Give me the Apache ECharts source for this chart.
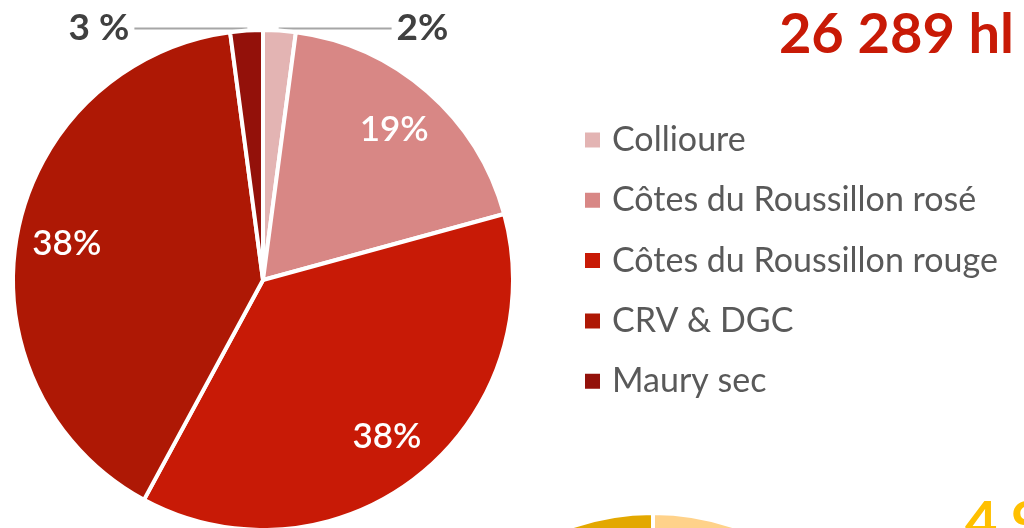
<!DOCTYPE html>
<html>
<head>
<meta charset="utf-8">
<script src="https://cdn.jsdelivr.net/npm/echarts@6/dist/echarts.min.js"></script>
<style>
  html, body { margin: 0; padding: 0; background: #fff; }
  #chart { width: 1024px; height: 528px; }
</style>
</head>
<body>
<div id="chart"></div>
<script>
// appellations, share of volume (%)
const categories = ['Collioure', 'Côtes du Roussillon rosé', 'Côtes du Roussillon rouge', 'CRV & DGC', 'Maury sec'];
const shares = [2.1, 18.65, 37.15, 40, 2.1];
const shareLabels = ['2%', '19%', '38%', '38%', '3 %'];
const colors = ['#e3b4b3', '#d88785', '#c81a06', '#ae1805', '#93110a'];
const totalLabel = '26 289 hl';

// next chart (only its top edge shows)
const nextShares = [25, 50, 25];
const nextColors = ['#ffd28a', '#f5c040', '#e3a800'];
const nextLabel = '4 912 hl';

const FONT = 'Lato';
const smallSlice = v => v < 5;

const chart = echarts.init(document.getElementById('chart'));

chart.setOption({
  animation: false,
  color: colors,
  title: [
    {
      text: totalLabel,
      right: 5, top: 2,
      textStyle: { fontFamily: FONT, fontSize: 56, fontWeight: 'bold', color: '#c81a06' }
    },
    {
      text: nextLabel,
      left: 960, top: 490,
      textStyle: { fontFamily: FONT, fontSize: 56, fontWeight: 'bold', color: '#ffc000' }
    }
  ],
  legend: {
    orient: 'vertical',
    left: 578, top: 118,
    itemWidth: 17, itemHeight: 17,
    itemGap: 26.3,
    icon: 'rect',
    data: categories,
    textStyle: { fontFamily: FONT, fontSize: 34, color: '#595959', padding: [0, 0, 0, 6] }
  },
  series: [
    {
      type: 'pie',
      center: [263, 280],
      radius: 250,
      startAngle: 90,
      clockwise: true,
      avoidLabelOverlap: false,
      itemStyle: { borderColor: '#fff', borderWidth: 4 },
      labelLine: { length: 2, length2: 112, lineStyle: { color: '#a6a6a6', width: 2 } },
      data: categories.map((name, i) => ({
        name,
        value: shares[i],
        label: {
          show: smallSlice(shares[i]),
          formatter: shareLabels[i],
          fontFamily: FONT, fontSize: 37, fontWeight: 'bold', color: '#404040'
        },
        labelLine: { show: smallSlice(shares[i]) }
      }))
    },
    {
      // transparent ring only to place the inner labels
      type: 'pie',
      center: [263, 280],
      radius: [145, 248],
      startAngle: 90,
      clockwise: true,
      silent: true,
      itemStyle: { color: 'rgba(0,0,0,0)' },
      labelLine: { show: false },
      data: categories.map((name, i) => ({
        name,
        value: shares[i],
        label: {
          show: !smallSlice(shares[i]),
          position: 'inside',
          formatter: shareLabels[i],
          fontFamily: FONT, fontSize: 35, fontWeight: 600, color: '#fff'
        }
      }))
    },
    {
      type: 'pie',
      center: [653, 763],
      radius: 250,
      startAngle: 90,
      clockwise: true,
      silent: true,
      label: { show: false },
      labelLine: { show: false },
      itemStyle: { borderColor: '#fff', borderWidth: 4 },
      data: nextShares.map((v, i) => ({ value: v, itemStyle: { color: nextColors[i] } }))
    }
  ]
});
</script>
</body>
</html>
